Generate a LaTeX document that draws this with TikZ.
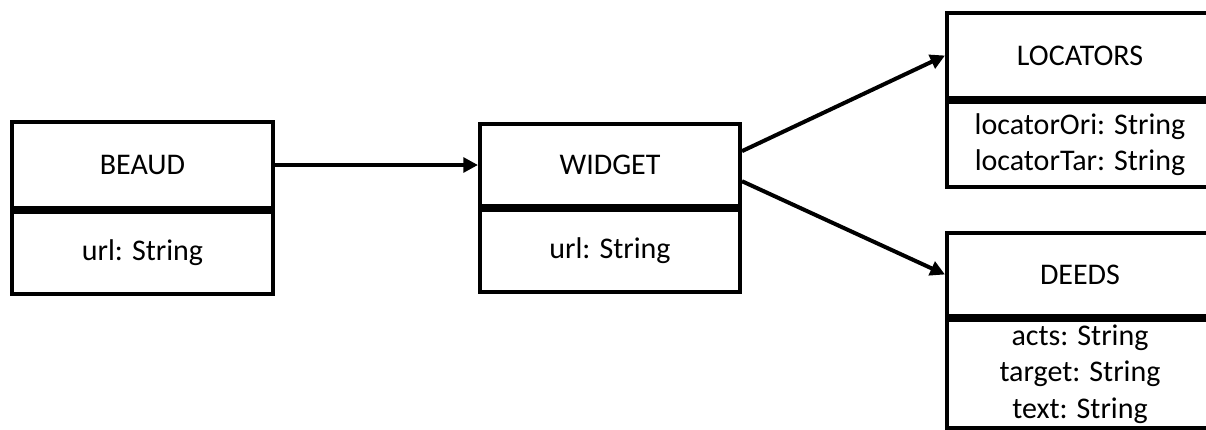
\documentclass[tikz,border=0pt]{standalone}
\usepackage{fontspec}
\setmainfont{Carlito}
\usepackage{tikz}
\usetikzlibrary{arrows.meta, positioning}

\begin{document}
\begin{tikzpicture}[x=0.75pt, y=-0.75pt,
    caja/.style={draw=black, line width=3pt, minimum width=#1*0.75pt, align=center,
        font=\fontsize{22.5}{27.5}\selectfont},
    alto/.style={minimum height=#1*0.75pt},
    flecha/.style={-{Triangle[length=11pt, width=11pt]}, line width=3pt}]
    \useasboundingbox (0,0) rectangle (1206,429);
    \clip (0,0) rectangle (1206,429);

    % Clase BEAUD
    \node[caja=261, alto=86] (beaud) at (142.5,165) {BEAUD};
    \node[caja=261, alto=82, below=0pt of beaud] (beaudAttr) {url: String};

    % Clase WIDGET
    \node[caja=260, alto=82] (widget) at (610,165) {WIDGET};
    \node[caja=260, alto=82, below=0pt of widget] (widgetAttr) {url: String};

    % Clase LOCATORS (cortada por el borde derecho)
    \node[caja=266, alto=85] (locators) at (1080,55.5) {LOCATORS};
    \node[caja=266, alto=85, below=0pt of locators] (locatorsAttr) {locatorOri: String\\locatorTar: String};

    % Clase DEEDS
    \node[caja=266, alto=83] (deeds) at (1080,274.5) {DEEDS};
    \node[caja=266, alto=108, below=0pt of deeds] (deedsAttr) {acts: String\\target: String\\text: String};

    % Relaciones
    \draw[flecha] (beaud) -- (widget);
    \draw[flecha] (widget.6) -- (locators.west);
    \draw[flecha] (widget.-7) -- (deeds.west);
\end{tikzpicture}
\end{document}
